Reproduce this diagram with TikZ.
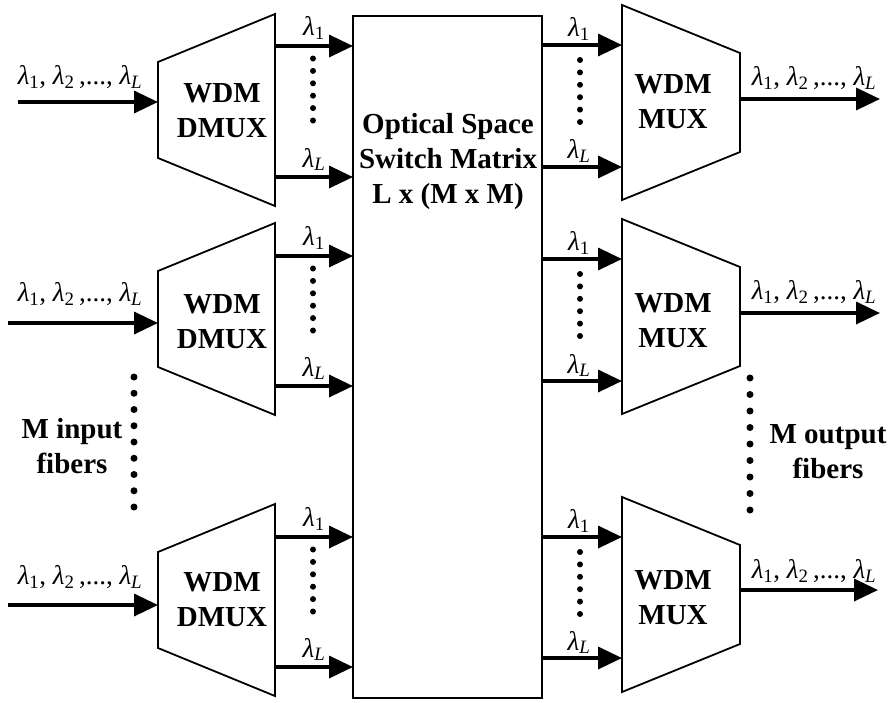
\documentclass[tikz,border=0pt]{standalone}
\usepackage{fontspec}
\setmainfont{Liberation Serif}
\usetikzlibrary{arrows.meta}
\newcommand\lm[1]{\textit{λ}\textsubscript{#1}}
\newcommand\lml{\lm{\textit{L}}}
\newcommand\lamlist{\lm{1}, \lm{2}\,,..., \lml}
\begin{document}
\begin{tikzpicture}[x=1pt,y=-1pt,
  arr/.style={line width=3.5pt,-{Triangle[length=24pt,width=22pt]}},
  shapeline/.style={line width=1.8pt,line join=miter},
  lbl/.style={font=\fontsize{27}{27}\selectfont, inner sep=0pt},
  txt/.style={font=\fontsize{29}{35}\selectfont\bfseries, align=center, inner sep=0pt},
  bigdot/.style={circle,fill,inner sep=0pt,minimum size=7pt},
  smalldot/.style={circle,fill,inner sep=0pt,minimum size=6pt}]
\useasboundingbox (0,0) rectangle (893,702);

% central switch
\node[draw, shapeline, minimum width=189pt, minimum height=682pt, inner sep=0pt] (sw) at (447.5,357) {};
\node[txt] (swtxt) at (448,162) {Optical Space\\Switch Matrix\\L x (M x M)};

% DMUX blocks: index / right-top y / input y / start x / out1 y / outL y / text y / label y
\foreach \i/\t/\iny/\sx/\oa/\ob/\ty/\ly in {1/14/102/18/46/177/111/77, 2/223/323/8/256/386/322/294, 3/504/605/8/537/667/600/577}{
  \draw[shapeline] (158,\t+48) -- (275,\t) -- (275,\t+192) -- (158,\t+144) -- cycle;
  \node[txt] (d\i) at (222,\ty) {WDM\\DMUX};
  \coordinate (din\i) at (158,\iny);
  \coordinate (src\i) at (\sx,\iny);
  \draw[arr] (src\i) -- (din\i);
  \node[lbl] (dl\i) at (80,\ly) {\lamlist};
  \coordinate (da\i) at (275,\oa);
  \coordinate (db\i) at (275,\ob);
  \coordinate (dae\i) at (353,\oa);
  \coordinate (dbe\i) at (353,\ob);
  \draw[arr] (da\i) -- (dae\i);
  \draw[arr] (db\i) -- (dbe\i);
  \node[lbl, anchor=south] (dla\i) at (314,\oa-6) {\lm{1}};
  \node[lbl, anchor=south] (dlb\i) at (314,\ob-6) {\lml};
  \foreach \k in {0,...,5}{
    \node[smalldot] at (313,\oa+12.5+12.4*\k) {};
  }
}

% MUX blocks: index / left-top y / out y / end x / in1 y / inL y / text y / label y
\foreach \i/\t/\outy/\ex/\ia/\ib/\ty/\ly in {1/5/99/880/45/167/102/78, 2/219/313/880/259/381/321/292, 3/497/590/878/537/658/598/571}{
  \draw[shapeline] (622,\t) -- (740,\t+48) -- (740,\t+147) -- (622,\t+195) -- cycle;
  \node[txt] (m\i) at (673,\ty) {WDM\\MUX};
  \coordinate (mout\i) at (740,\outy);
  \coordinate (dst\i) at (\ex,\outy);
  \draw[arr] (mout\i) -- (dst\i);
  \node[lbl] (ml\i) at (814,\ly) {\lamlist};
  \coordinate (ma\i) at (542,\ia);
  \coordinate (mb\i) at (542,\ib);
  \coordinate (mae\i) at (622,\ia);
  \coordinate (mbe\i) at (622,\ib);
  \draw[arr] (ma\i) -- (mae\i);
  \draw[arr] (mb\i) -- (mbe\i);
  \node[lbl, anchor=south] (mla\i) at (579,\ia-4) {\lm{1}};
  \node[lbl, anchor=south] (mlb\i) at (579,\ib-4) {\lml};
  \foreach \k in {0,...,5}{
    \node[smalldot] at (580,\ia+15+12.4*\k) {};
  }
}

% fibre counters
\foreach \k in {0,...,8}{
  \node[bigdot] at (134,377+16.25*\k) {};
  \node[bigdot] at (750,378+16.5*\k) {};
}
\node[txt] (inlbl) at (72,446) {M input\\fibers};
\node[txt] (outlbl) at (828,452) {M output\\fibers};
\end{tikzpicture}
\end{document}
